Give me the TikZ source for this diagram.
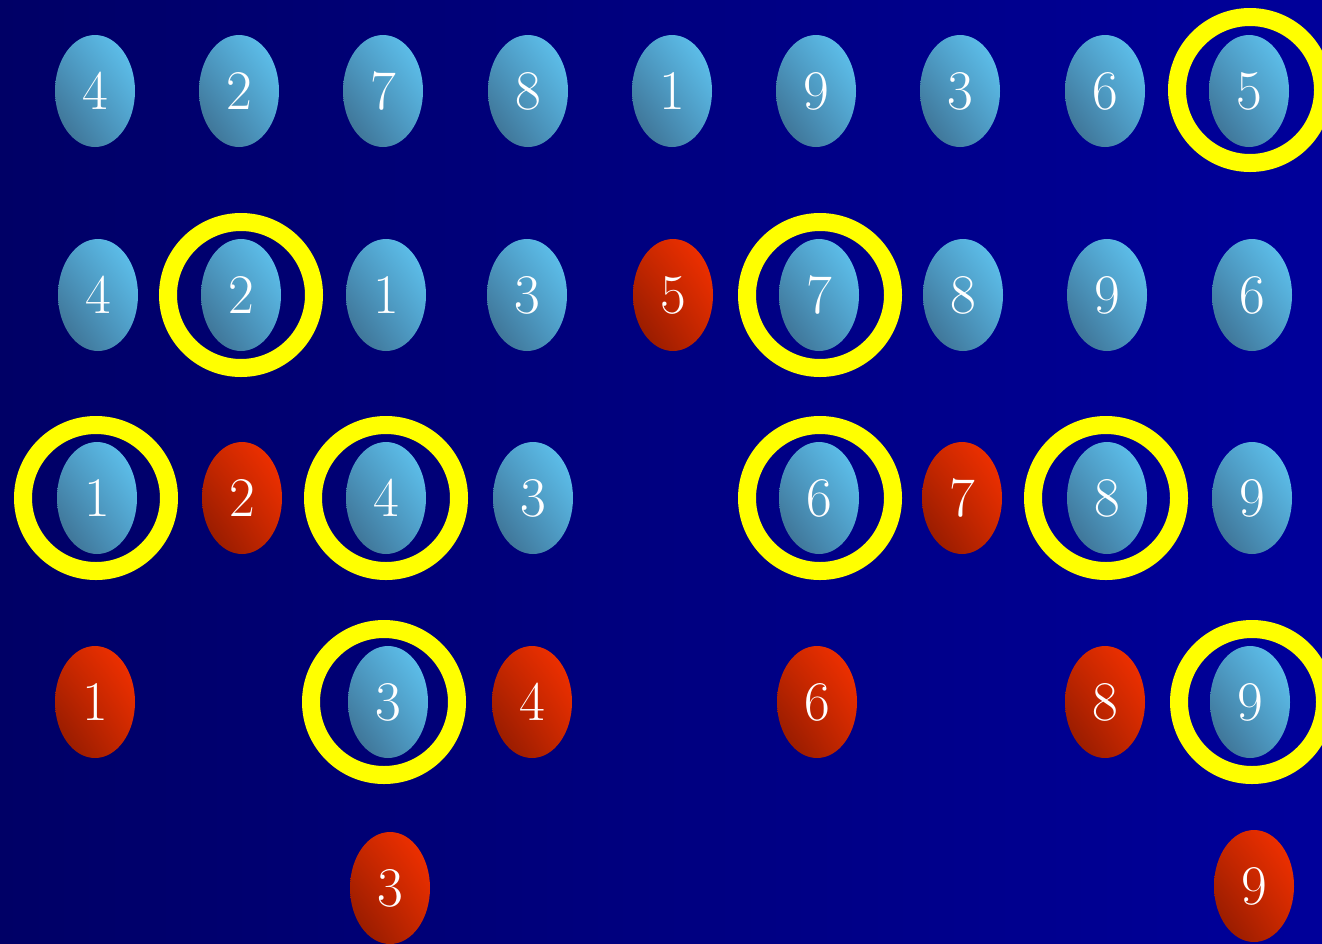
\documentclass[tikz,border=0pt]{standalone}
\usetikzlibrary{shapes.geometric,shadings}
\definecolor{bgL}{HTML}{000066}
\definecolor{bgR}{HTML}{00009A}
\definecolor{bL}{HTML}{62CAF6}
\definecolor{bM}{HTML}{4E9CC6}
\definecolor{bD}{HTML}{3A6888}
\definecolor{rL}{HTML}{FA3200}
\definecolor{rM}{HTML}{C82800}
\definecolor{rD}{HTML}{881800}
\definecolor{ring}{HTML}{FFFF00}
\tikzset{
  egg/.style={ellipse, minimum width=80pt, minimum height=112pt, inner sep=0pt,
    text=white, font=\rmfamily\fontsize{56}{56}\selectfont},
  blueegg/.style={egg, upper right=bL, upper left=bM, lower right=bM, lower left=bD},
  redegg/.style={egg, upper right=rL, upper left=rM, lower right=rM, lower left=rD},
  hilite/.style={circle, draw=ring, line width=18pt, minimum size=146pt, inner sep=0pt, outer sep=0pt}
}
\begin{document}
\begin{tikzpicture}[x=1pt,y=-1pt]
\shade[left color=bgL, right color=bgR] (0,0) rectangle (1322,943);
\useasboundingbox (0,0) rectangle (1322,943);
% row 1
\node[blueegg] (a1) at (95,91) {4};
\node[blueegg] (a2) at (239,91) {2};
\node[blueegg] (a3) at (383,91) {7};
\node[blueegg] (a4) at (528,91) {8};
\node[blueegg] (a5) at (672,91) {1};
\node[blueegg] (a6) at (816,91) {9};
\node[blueegg] (a7) at (960,91) {3};
\node[blueegg] (a8) at (1105,91) {6};
\node[blueegg] (a9) at (1249,91) {5};
% row 2
\node[blueegg] (b1) at (98,295) {4};
\node[blueegg] (b2) at (241,295) {2};
\node[blueegg] (b3) at (386,295) {1};
\node[blueegg] (b4) at (527,295) {3};
\node[redegg]  (b5) at (673,295) {5};
\node[blueegg] (b6) at (819,295) {7};
\node[blueegg] (b7) at (963,295) {8};
\node[blueegg] (b8) at (1107,295) {9};
\node[blueegg] (b9) at (1252,295) {6};
% row 3
\node[blueegg] (c1) at (97,498) {1};
\node[redegg]  (c2) at (242,498) {2};
\node[blueegg] (c3) at (386,498) {4};
\node[blueegg] (c4) at (533,498) {3};
\node[blueegg] (c6) at (819,498) {6};
\node[redegg]  (c7) at (962,498) {7};
\node[blueegg] (c8) at (1107,498) {8};
\node[blueegg] (c9) at (1252,498) {9};
% row 4
\node[redegg]  (d1) at (95,702) {1};
\node[blueegg] (d3) at (388,702) {3};
\node[redegg]  (d4) at (532,702) {4};
\node[redegg]  (d6) at (817,702) {6};
\node[redegg]  (d8) at (1105,702) {8};
\node[blueegg] (d9) at (1250,702) {9};
% row 5
\node[redegg]  (e3) at (390,888) {3};
\node[redegg]  (e9) at (1254,886) {9};
% rings
\node[hilite] (ra9) at (1250,90) {};
\node[hilite] (rb2) at (241,295) {};
\node[hilite] (rb6) at (820,295) {};
\node[hilite] (rc1) at (96,498) {};
\node[hilite] (rc3) at (386,498) {};
\node[hilite] (rc6) at (820,498) {};
\node[hilite] (rc8) at (1106,498) {};
\node[hilite] (rd3) at (384,702) {};
\node[hilite] (rd9) at (1252,702) {};
\end{tikzpicture}
\end{document}
